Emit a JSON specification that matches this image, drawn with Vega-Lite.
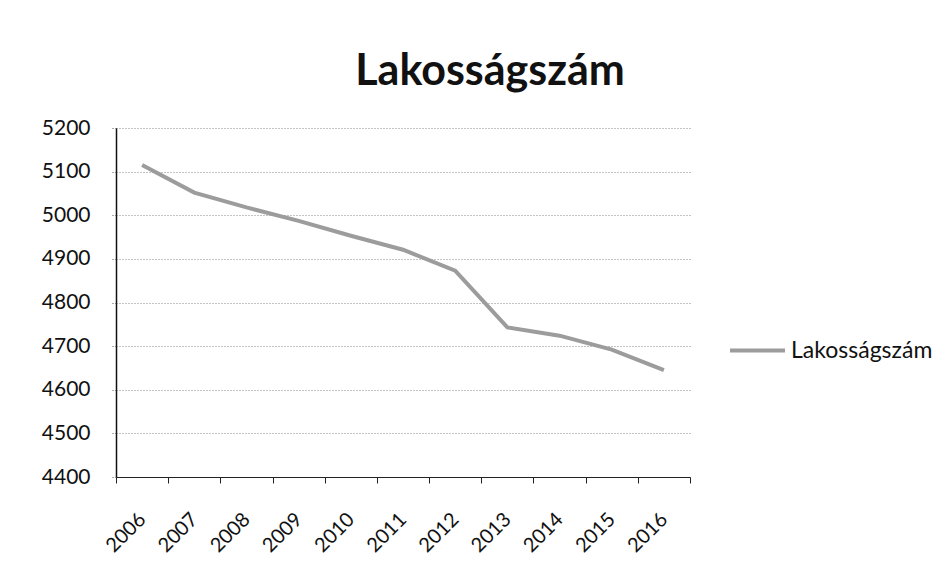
{
  "$schema": "https://vega.github.io/schema/vega-lite/v6.json",
  "width": 574,
  "height": 349,
  "autosize": {"type": "none"},
  "padding": {"left": 116, "top": 128, "right": 262, "bottom": 110},
  "background": "white",
  "title": {
    "text": "Lakosságszám",
    "font": "Lato",
    "fontSize": 43,
    "fontWeight": "bold",
    "color": "#111111",
    "anchor": "middle",
    "dx": 87,
    "offset": 23
  },
  "data": {
    "values": [
      {"year": "2006", "value": 5115},
      {"year": "2007", "value": 5052},
      {"year": "2008", "value": 5018},
      {"year": "2009", "value": 4987},
      {"year": "2010", "value": 4953},
      {"year": "2011", "value": 4921},
      {"year": "2012", "value": 4873},
      {"year": "2013", "value": 4743},
      {"year": "2014", "value": 4724},
      {"year": "2015", "value": 4692},
      {"year": "2016", "value": 4645}
    ]
  },
  "mark": {"type": "line", "strokeWidth": 4, "interpolate": "linear"},
  "encoding": {
    "x": {
      "field": "year",
      "type": "ordinal",
      "scale": {"paddingInner": 0, "paddingOuter": 0},
      "axis": {
        "title": null,
        "labelAngle": -45,
        "labelAlign": "right",
        "labelBaseline": "middle",
        "labelFont": "Lato",
        "labelFontSize": 20,
        "labelColor": "#111111",
        "labelOffset": 0,
        "labelPadding": 33,
        "tickBand": "extent",
        "tickSize": 6,
        "tickColor": "#222222",
        "domainColor": "#222222",
        "grid": false
      }
    },
    "y": {
      "field": "value",
      "type": "quantitative",
      "scale": {"domain": [4400, 5200], "nice": false, "zero": false},
      "axis": {
        "title": null,
        "values": [4400, 4500, 4600, 4700, 4800, 4900, 5000, 5100, 5200],
        "format": "d",
        "labelFont": "Lato",
        "labelFontSize": 21,
        "labelColor": "#111111",
        "labelPadding": 21,
        "tickSize": 5,
        "tickColor": "#555555",
        "tickDash": [1, 2],
        "domainColor": "#111111",
        "domainWidth": 1.5,
        "gridColor": "#888888",
        "gridDash": [1, 2],
        "gridWidth": 1
      }
    },
    "color": {
      "datum": "Lakosságszám",
      "type": "nominal",
      "scale": {"range": ["#9c9c9c"]},
      "legend": {
        "title": null,
        "orient": "none",
        "legendX": 612,
        "legendY": 193,
        "symbolType": "stroke",
        "symbolSize": 3025,
        "symbolStrokeWidth": 4,
        "labelFont": "Lato",
        "labelFontSize": 23,
        "labelColor": "#111111",
        "labelOffset": 4
      }
    }
  },
  "config": {
    "view": {"stroke": null}
  }
}
